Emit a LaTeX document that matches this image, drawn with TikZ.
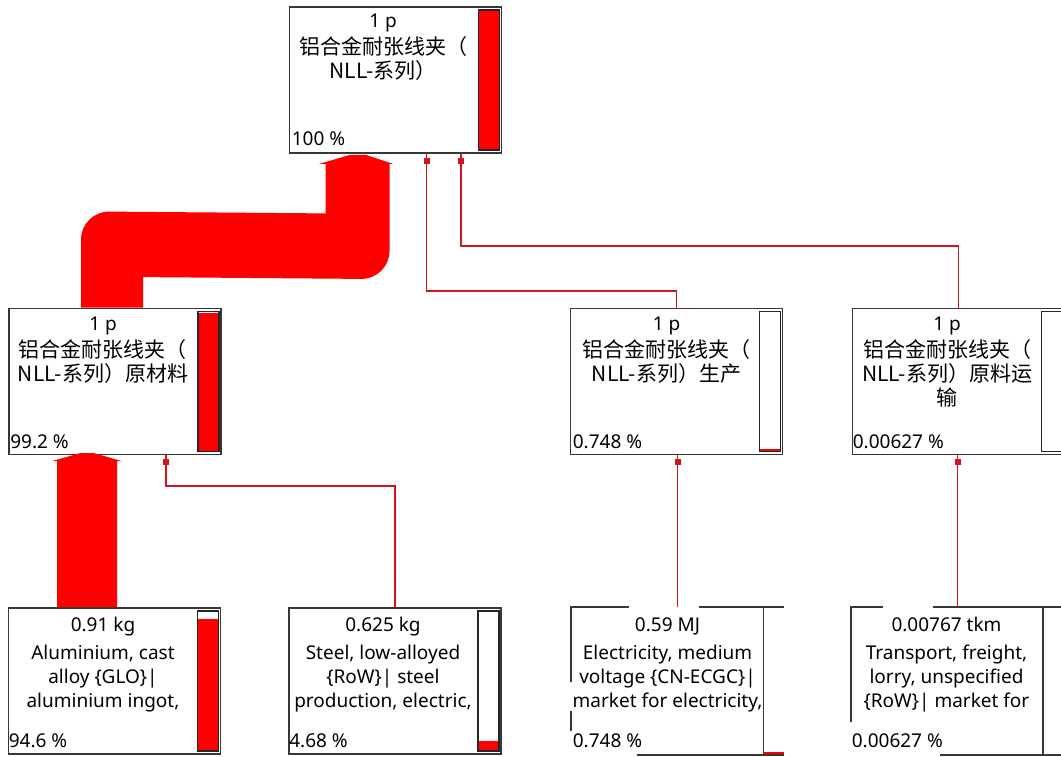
\documentclass[tikz,border=0pt]{standalone}
\usepackage{fontspec}
\setmainfont{Noto Sans}
\newfontfamily\cjk{Noto Sans CJK SC}
\usetikzlibrary{calc,decorations.markings}
\definecolor{flowred}{RGB}{255,0,0}
\definecolor{linkred}{RGB}{214,20,32}
\definecolor{edgegray}{RGB}{55,55,55}
\newcommand{\zh}[1]{{\cjk\fontsize{21}{24}\selectfont #1}}
\newcommand{\firstline}{\rule{0pt}{15pt}}
\newcommand{\levelbar}[2]{%
	\fill[flowred] ($(#1.south east)+(-24,-4)$) rectangle ($($(#1.south east)+(-3,-4)$)!#2!($(#1.north east)+(-3,4)$)$);
	\draw[barframe] ($(#1.north east)+(-24,4)$) rectangle ($(#1.south east)+(-3,-4)$);
}

\begin{document}
\begin{tikzpicture}[x=1pt,y=-1pt]
					\tikzset{proc/.style={draw=edgegray,line width=1.8pt,minimum width=212pt,minimum height=146pt,inner sep=0pt},
						edge/.style={draw=edgegray,line width=1.8pt},
						barframe/.style={draw=black!85,line width=1.6pt},
						txt/.style={align=center,inner sep=0pt,anchor=north,font=\fontsize{19}{24}\selectfont},
						pct/.style={inner sep=0pt,anchor=base west,font=\fontsize{19}{24}\selectfont},
						flow/.style={fill=flowred},
						link/.style={draw=linkred,line width=1.8pt,postaction={decorate},decoration={markings,mark=at position -7pt with {\fill[linkred] (-3pt,-3pt) rectangle (3pt,3pt);}}}}
					
					\fill[white] (0,0) rectangle (1061,756);
					\useasboundingbox (0,0) rectangle (1061,756);
					
					\node[proc] (top) at (395.5,80) {};
					\node[proc] (mat) at (115,381.5) {};
					\node[proc] (prod) at (676.5,381.5) {};
					\node[proc] (trans) at (958.5,381.5) {};
					\node[proc] (alu) at (114.5,681) {};
					\node[proc] (steel) at (395,681) {};
					\node[proc,draw=none] (elec) at (677.5,681) {};
					\node[proc,draw=none] (freight) at (957.5,681) {};
					
					\levelbar{top}{1}
					\levelbar{mat}{0.992}
					\levelbar{prod}{0.015}
					\levelbar{trans}{0}
					\levelbar{alu}{0.946}
					\levelbar{steel}{0.07}
					
					\draw[edge] ($(elec.north west)+(58,0)$) -- (elec.north west) -- ($(elec.north west)+(0,75)$);
					\draw[edge] ($(elec.north west)+(0,104)$) -- ($(elec.north west)+(0,124)$);
					\draw[edge] ($(elec.north west)+(128,0)$) -- (elec.north east);
					\fill[flowred] ($(elec.south east)+(-21,-3)$) rectangle (elec.south east);
					\draw[edge] ($(elec.south west)+(66,0)$) -- (elec.south east);
					\draw[edge] ($(elec.north east)+(-21,0)$) -- ($(elec.south east)+(-21,0)$);
					
					\draw[edge] ($(freight.north west)+(32,0)$) -- (freight.north west) -- ($(freight.north west)+(0,115)$);
					\draw[edge] ($(freight.north west)+(82,0)$) -- (freight.north east);
					\draw[edge] ($(freight.south west)+(89,0)$) -- (freight.south east);
					\draw[edge] ($(freight.north east)+(-21.5,0)$) -- ($(freight.south east)+(-21.5,0)$);
					
					\node[txt] (toptxt) at ($(top.north)+(-12.5,6)$) {\firstline 1 p\\[3pt]\zh{铝合金耐张线夹（}\\\zh{NLL-系列）}};
					\node[txt] (mattxt) at ($(mat.north)+(-12,8)$) {\firstline 1 p\\[3pt]\zh{铝合金耐张线夹（}\\\zh{NLL-系列）原材料}};
					\node[txt] (prodtxt) at ($(prod.north)+(-10,8)$) {\firstline 1 p\\[3pt]\zh{铝合金耐张线夹（}\\\zh{NLL-系列）生产}};
					\node[txt] (transtxt) at ($(trans.north)+(-11.5,8)$) {\firstline 1 p\\[3pt]\zh{铝合金耐张线夹（}\\\zh{NLL-系列）原料运}\\\zh{输}};
					\node[txt] (alutxt) at ($(alu.north)+(-11.5,9)$) {\firstline 0.91 kg\\[4pt]Aluminium, cast\\alloy \{GLO\}|\\aluminium ingot,};
					\node[txt] (steeltxt) at ($(steel.north)+(-12,9)$) {\firstline 0.625 kg\\[4pt]Steel, low-alloyed\\\{RoW\}| steel\\production, electric,};
					\node[txt] (electxt) at ($(elec.north)+(-10,9)$) {\firstline 0.59 MJ\\[4pt]Electricity, medium\\voltage \{CN-ECGC\}|\\market for electricity,};
					\node[txt] (freighttxt) at ($(freight.north)+(-11,9)$) {\firstline 0.00767 tkm\\[4pt]Transport, freight,\\lorry, unspecified\\\{RoW\}| market for};
					
					\node[pct] (toppct) at ($(top.south west)+(3,-8)$) {100 \%};
					\node[pct] (matpct) at ($(mat.south west)+(2,-7)$) {99.2 \%};
					\node[pct] (prodpct) at ($(prod.south west)+(3,-7)$) {0.748 \%};
					\node[pct] (transpct) at ($(trans.south west)+(1,-7)$) {0.00627 \%};
					\node[pct] (alupct) at ($(alu.south west)+(1,-7)$) {94.6 \%};
					\node[pct] (steelpct) at ($(steel.south west)+(1,-7)$) {4.68 \%};
					\node[pct] (elecpct) at ($(elec.south west)+(2,-7)$) {0.748 \%};
					\node[pct] (freightpct) at ($(freight.south west)+(1,-7)$) {0.00627 \%};
					
					\coordinate (m1) at ($(mat.north)+(-3,0)$);
					\coordinate (t1) at ($(top.south)+(-38,0)$);
					\fill[flow] ($(m1)+(-31,0)$) -- ($(m1)+(-31,-68)$) arc[start angle=180,end angle=270,radius=28] -- ($(t1)+(-32,59.5)$) -- ($(t1)+(-32,10)$) -- ($(t1)+(-38.5,10)$) -- ($(t1)+(-7.5,1)$) -- ($(t1)+(8.5,1)$) -- ($(t1)+(35.5,10)$) -- ($(t1)+(32,10)$) -- ($(t1)+(32,97)$) arc[start angle=0,end angle=90,radius=28] -- ($(m1)+(31,-30.5)$) -- ($(m1)+(31,0)$) -- cycle;
					\coordinate (a1) at ($(alu.north)+(-27.5,0)$);
					\fill[flow] ($(a1)+(-30,0)$) -- ($(a1)+(-30,-146)$) -- ($(a1)+(-35,-146)$) -- ($(a1)+(-7,-154)$) -- ($(a1)+(7,-154)$) -- ($(a1)+(35,-146)$) -- ($(a1)+(30,-146)$) -- ($(a1)+(30,0)$) -- cycle;
					
					\draw[link] (prod.north) -- ++(0,-17) -| ($(top.south)+(31,0)$);
					\draw[link] (trans.north) -- ++(0,-62) -| ($(top.south)+(65.5,0)$);
					\draw[link] (steel.north) -- ++(0,-121) -| ($(mat.south)+(51,0)$);
					\draw[link] (elec.north) -- (elec.north |- prod.south);
					\draw[link] (freight.north) -- (freight.north |- trans.south);
\end{tikzpicture}
\end{document}
